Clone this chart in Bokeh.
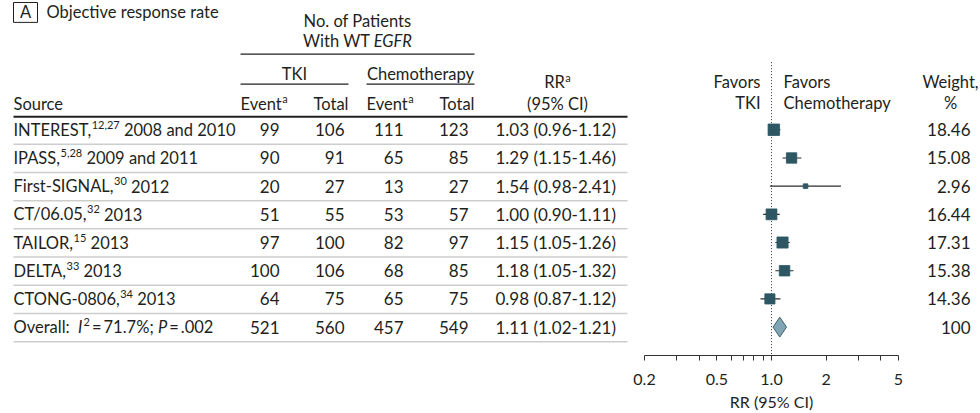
import math
import subprocess

from bokeh.plotting import figure
from bokeh.models import Range1d, LogScale, FixedTicker, LogAxis, Title
from bokeh.core.properties import value
from bokeh.embed import file_html
from bokeh.resources import INLINE

# ---------------- data ----------------
studies = ["INTEREST,", "IPASS,", "First-SIGNAL,", "CT/06.05,", "TAILOR,", "DELTA,", "CTONG-0806,"]
study_refs = ["12,27", "5,28", "30", "32", "15", "33", "34"]
study_years = ["2008 and 2010", "2009 and 2011", "2012", "2013", "2013", "2013", "2013"]
tki_event = [99, 90, 20, 51, 97, 100, 64]
tki_total = [106, 91, 27, 55, 100, 106, 75]
chemo_event = [111, 65, 13, 53, 82, 68, 65]
chemo_total = [123, 85, 27, 57, 97, 85, 75]
rr = [1.03, 1.29, 1.54, 1.00, 1.15, 1.18, 0.98]
rr_low = [0.96, 1.15, 0.98, 0.90, 1.05, 1.05, 0.87]
rr_high = [1.12, 1.46, 2.41, 1.11, 1.26, 1.32, 1.12]
weights = [18.46, 15.08, 2.96, 16.44, 17.31, 15.38, 14.36]
overall_counts = [521, 560, 457, 549]
overall_rr = [1.11, 1.02, 1.21]
overall_weight = 100
overall_i2 = "71.7%"
overall_p = ".002"
axis_ticks = [0.2, 0.5, 1.0, 2, 5]
axis_tick_labels = ["0.2", "0.5", "1.0", "2", "5"]
axis_minor_ticks = [0.3, 0.4, 0.6, 0.7, 0.8, 0.9, 3, 4]

# ---------------- style ----------------
FONT = "Lato"


def _has_family(name):
    try:
        r = subprocess.run(["fc-list", ":", "family"], capture_output=True, text=True, timeout=5)
        fams = set()
        for line in r.stdout.splitlines():
            for f in line.split(","):
                fams.add(f.strip())
        return name in fams
    except Exception:
        return False


HFONT = "Lato Semibold" if _has_family("Lato Semibold") else FONT
FS = 16.5
NS = 17
SUP = 11
SUP_RAISE = 5
TXT = "#231f20"
SQ_COLOR = "#2d5763"
DIA_FILL = "#80a6b6"
DIA_LINE = "#445f6a"


def _font_file(family, style):
    try:
        r = subprocess.run(["fc-match", "-f", "%{file}", f"{family}:style={style}"],
                           capture_output=True, text=True, timeout=5)
        return r.stdout.strip() or None
    except Exception:
        return None


_fcache = {}


def tw(s, size=FS, italic=False, family=FONT):
    key = (size, italic, family)
    if key not in _fcache:
        f = None
        try:
            from PIL import ImageFont
            style = "Italic" if italic else ("Semibold" if family != FONT else "Regular")
            f = ImageFont.truetype(_font_file(family, style), size)
        except Exception:
            f = None
        _fcache[key] = f
    f = _fcache[key]
    if f is None:
        return len(s) * 0.53 * size
    return f.getlength(s)


# ---------------- figure (page coordinates) ----------------
W = 980
H = 413
Y_AXIS = 357
BOTTOM = H - Y_AXIS

# log scale for forest marks: 0.2 at x=644, 5 at x=898
FX0, FX1 = 644.0, 898.0
k = (FX1 - FX0) / math.log(5 / 0.2)
rr_start = 0.2 * math.exp(-FX0 / k)
rr_end = 5 * math.exp((W - FX1) / k)

p = figure(width=W, height=H, x_range=Range1d(0, W), y_range=Range1d(Y_AXIS, 0),
           x_axis_location=None, y_axis_location=None, toolbar_location=None,
           output_backend="svg", min_border=0, min_border_bottom=BOTTOM)
p.extra_x_ranges = {"rr": Range1d(rr_start, rr_end)}
p.extra_x_scales = {"rr": LogScale()}
p.outline_line_color = None
p.grid.visible = False
p.background_fill_color = "white"
p.border_fill_color = "white"


def T(xs, ys, texts, align="left", size=FS, italic=False, color=TXT, family=FONT):
    p.text(x=xs, y=ys, text=texts, text_font=value(family), text_font_size=f"{size}px",
           text_align=align, text_baseline="middle", text_color=color,
           text_font_style="italic" if italic else "normal")


def sup_after(x, y, base, sup, size=FS, italic=False, family=FONT):
    T([x], [y], [base], size=size, italic=italic, family=family)
    sx = x + tw(base, size, italic, family) + 0.5
    T([sx], [y - SUP_RAISE], [sup], size=SUP, family=family)
    return sx + tw(sup, SUP, family=family)


# panel title
p.quad(left=[13], right=[37], top=[2], bottom=[22], fill_color=None, line_color=TXT, line_width=1)
T([25], [12], ["A"], align="center", family=HFONT)
T([46], [12], ["Objective response rate"])

# header
T([357], [21], ["No. of Patients"], align="center", family=HFONT)
w1 = tw("With WT ", family=HFONT)
w2 = tw("EGFR", italic=True)
hx = 357 - (w1 + w2) / 2
T([hx], [41], ["With WT "], family=HFONT)
T([hx + w1], [41], ["EGFR"], italic=True)
p.segment(x0=[240], x1=[474], y0=[54], y1=[54], line_color=TXT, line_width=1.2)
T([294, 420], [73.5, 73.5], ["TKI", "Chemotherapy"], align="center", family=HFONT)
p.segment(x0=[240, 366], x1=[348, 474], y0=[84, 84], y1=[84, 84], line_color=TXT, line_width=1.2)
HB = 104
T([13], [HB], ["Source"], family=HFONT)
sup_after(240, HB, "Event", "a", family=HFONT)
sup_after(366, HB, "Event", "a", family=HFONT)
T([348, 474], [HB, HB], ["Total", "Total"], align="right", family=HFONT)
rw = tw("RR", family=HFONT) + 0.5 + tw("a", SUP, family=HFONT)
sup_after(557 - rw / 2, 82, "RR", "a", family=HFONT)
T([557], [HB], ["(95% CI)"], align="center", family=HFONT)
T([760, 760], [81.5, 103.5], ["Favors", "TKI"], align="right", family=HFONT)
T([783, 783], [81.5, 103.5], ["Favors", "Chemotherapy"], family=HFONT)
T([950, 950], [81.5, 103.5], ["Weight,", "%"], align="center", family=HFONT)
p.segment(x0=[13], x1=[627], y0=[117], y1=[117], line_color=TXT, line_width=2)

# rows
n = len(studies)
center = [130 + 28.35 * i for i in range(n + 1)]
seps = [c + 14.6 for c in center]
p.segment(x0=[13] * (n + 1), x1=[627] * (n + 1), y0=seps, y1=seps, line_color="#cdcdcd", line_width=1.5)

for i in range(n):
    end = sup_after(13, center[i], studies[i], study_refs[i])
    T([end + tw(" ")], [center[i]], [study_years[i]])

# overall label
x = 13
yo = center[n]
T([x], [yo], ["Overall:  "])
x += tw("Overall:  ")
T([x], [yo], ["I"], italic=True)
x += tw("I", italic=True) + 1
T([x], [yo - SUP_RAISE], ["2"], size=SUP)
x += tw("2", SUP)
s1 = "\u2009=\u2009" + overall_i2 + "; "
T([x], [yo], [s1])
x += tw(s1)
T([x], [yo], ["P"], italic=True)
x += tw("P", italic=True)
T([x], [yo], ["\u2009=\u2009" + overall_p])

col_ev1 = tki_event + [overall_counts[0]]
col_t1 = tki_total + [overall_counts[1]]
col_ev2 = chemo_event + [overall_counts[2]]
col_t2 = chemo_total + [overall_counts[3]]
T([279] * (n + 1), center, [str(v) for v in col_ev1], align="right", size=NS)
T([344] * (n + 1), center, [str(v) for v in col_t1], align="right", size=NS)
T([403] * (n + 1), center, [str(v) for v in col_ev2], align="right", size=NS)
T([468] * (n + 1), center, [str(v) for v in col_t2], align="right", size=NS)
rr_labels = [f"{a:.2f} ({b:.2f}-{c:.2f})" for a, b, c in zip(rr, rr_low, rr_high)]
rr_labels.append(f"{overall_rr[0]:.2f} ({overall_rr[1]:.2f}-{overall_rr[2]:.2f})")
T([495] * (n + 1), center, rr_labels, size=NS)
w_labels = [f"{w:.2f}" for w in weights] + [str(overall_weight)]
T([970] * (n + 1), center, w_labels, align="right", size=NS)

# forest marks
p.segment(x0=[1.0], x1=[1.0], y0=[62], y1=[Y_AXIS], x_range_name="rr",
          line_color="#333333", line_width=1, line_dash="1 2")
p.segment(x0=rr_low, x1=rr_high, y0=center[:n], y1=center[:n], x_range_name="rr",
          line_color="#2a2a2a", line_width=1.1)
wmax = max(weights)
sizes = [11.5 * math.sqrt(w / wmax) for w in weights]
p.scatter(x=rr, y=center[:n], size=sizes, marker="square", x_range_name="rr",
          fill_color=SQ_COLOR, line_color=SQ_COLOR, line_width=0.8)
yc = center[n]
p.patch(x=[overall_rr[1], overall_rr[0], overall_rr[2], overall_rr[0]],
        y=[yc, yc - 10, yc, yc + 10], x_range_name="rr",
        fill_color=DIA_FILL, line_color=DIA_LINE, line_width=1)

# ---------------- axis ----------------
xa = LogAxis(x_range_name="rr", bounds=(0.2, 5),
             ticker=FixedTicker(ticks=axis_ticks, minor_ticks=axis_minor_ticks))
xa.major_label_overrides = {v: lab for v, lab in zip(axis_ticks, axis_tick_labels)}
xa.axis_line_color = "#333333"
xa.axis_line_width = 1.2
xa.major_tick_line_color = "#333333"
xa.minor_tick_line_color = "#333333"
xa.major_tick_in = 0
xa.major_tick_out = 5
xa.minor_tick_in = 0
xa.minor_tick_out = 5
xa.major_label_standoff = 13
xa.major_label_text_font = FONT
xa.major_label_text_font_size = "16px"
xa.major_label_text_color = TXT
p.add_layout(xa, "below")

AX_LABEL = "RR (95% CI)"
ax_title = Title(text=AX_LABEL, align="left",
                 offset=(FX0 + FX1) / 2 - tw(AX_LABEL, 16, family=HFONT) / 2,
                 text_font=HFONT, text_font_size="16px", text_font_style="normal",
                 text_color=TXT, standoff=5)
p.add_layout(ax_title, "below")

open("out.html", "w").write(file_html(p, INLINE))
